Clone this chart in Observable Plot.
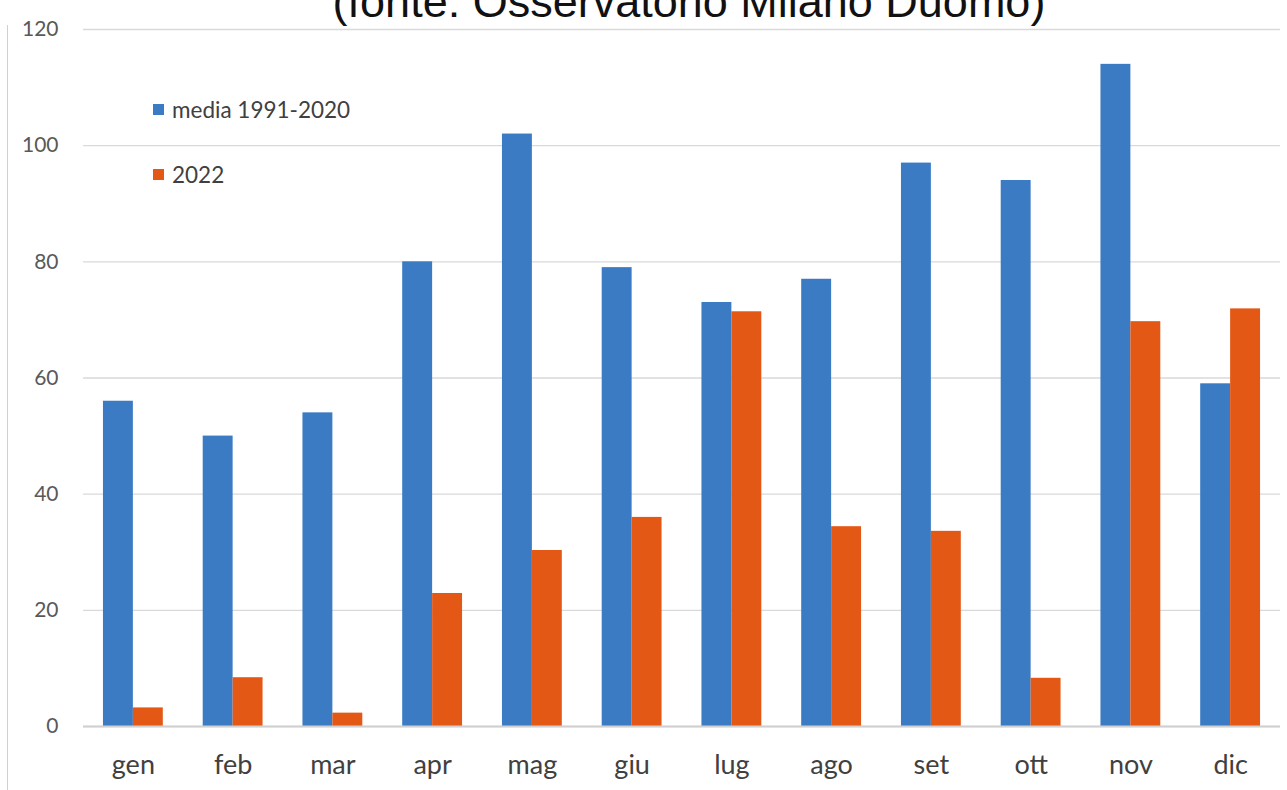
<!DOCTYPE html>
<html>
<head>
<meta charset="utf-8">
<script src="https://cdn.jsdelivr.net/npm/d3@7"></script>
<script src="https://cdn.jsdelivr.net/npm/@observablehq/plot@0.6"></script>
<style>
  html, body { margin: 0; padding: 0; background: #fff; overflow: hidden; }
  #wrap { position: relative; width: 1287px; height: 790px; overflow: hidden; font-family: Lato, "Open Sans", sans-serif; }
  #border { position: absolute; left: 7px; top: 25px; width: 0; height: 800px; border-left: 1.5px solid #d0d0d0; }
  #title { position: absolute; left: 689px; top: -24px; transform: translateX(-50%); font-family: "Liberation Sans", Arial, sans-serif; font-size: 45px; line-height: 51px; color: #111; white-space: nowrap; }
  .leg { position: absolute; display: flex; align-items: center; font-size: 22.5px; color: #404040; }
  .sw { width: 11px; height: 11px; margin-right: 8px; }
  #chart { position: absolute; left: 0; top: 0; }
</style>
</head>
<body>
<div id="wrap">
  <div id="border"></div>
  <div id="chart"></div>
  <div id="title">(fonte: Osservatorio Milano Duomo)</div>
  <div id="legend"></div>
</div>
<script>
const months = ["gen","feb","mar","apr","mag","giu","lug","ago","set","ott","nov","dic"];
const media19912020 = [56, 50, 54, 80, 102, 79, 73, 77, 97, 94, 114, 59];
const anno2022 = [3.2, 8.4, 2.3, 22.9, 30.3, 36.0, 71.4, 34.4, 33.6, 8.3, 69.7, 71.9];
const seriesNames = ["media 1991-2020", "2022"];
const seriesColors = ["#3a7bc4", "#e45815"];
const yTicks = [0, 20, 40, 60, 80, 100, 120];

const data = months.flatMap((m, i) => [
  {i, month: m, series: seriesNames[0], value: media19912020[i]},
  {i, month: m, series: seriesNames[1], value: anno2022[i]}
]);

const half = 0.3;
const chart = Plot.plot({
  width: 1287,
  height: 790,
  marginLeft: 83,
  marginRight: 7,
  marginTop: 29,
  marginBottom: 64,
  style: {fontFamily: "Lato, 'Open Sans', sans-serif", background: "transparent"},
  x: {type: "linear", domain: [-0.5, 11.5]},
  y: {domain: [0, 120]},
  color: {domain: seriesNames, range: seriesColors},
  marks: [
    Plot.gridY(yTicks, {stroke: "#d9d9d9", strokeOpacity: 1, strokeWidth: 1.3}),
    Plot.rectY(data, {
      x1: d => d.series === seriesNames[0] ? d.i - half : d.i,
      x2: d => d.series === seriesNames[0] ? d.i : d.i + half,
      y: "value",
      fill: "series"
    }),
    Plot.ruleY([0], {stroke: "#d0d0d0", strokeWidth: 2}),
    Plot.axisY(yTicks, {tickSize: 0, tickPadding: 25, fontSize: 21, fill: "#595959", label: null}),
    Plot.axisX(d3.range(12), {tickSize: 0, tickPadding: 28, fontSize: 27, fill: "#404040", tickFormat: i => months[i], label: null})
  ]
});
document.getElementById("chart").appendChild(chart);

const legend = document.getElementById("legend");
const legPos = [[153, 96], [153, 161]];
seriesNames.forEach((s, k) => {
  const el = document.createElement("div");
  el.className = "leg";
  el.style.left = legPos[k][0] + "px";
  el.style.top = legPos[k][1] + "px";
  el.innerHTML = `<span class="sw" style="background:${seriesColors[k]}"></span><span>${s}</span>`;
  legend.appendChild(el);
});
</script>
</body>
</html>
